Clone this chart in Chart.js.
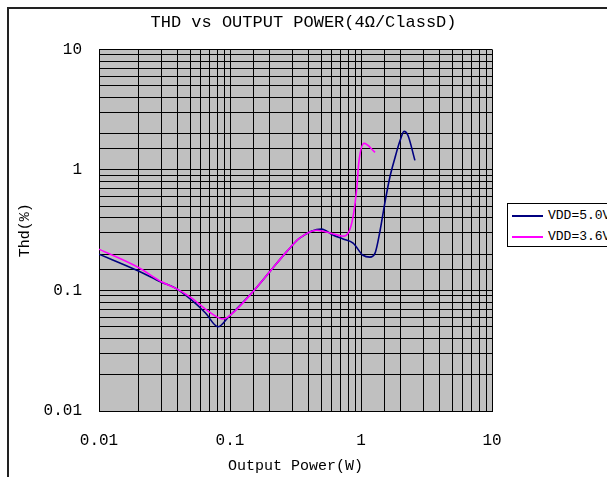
<!DOCTYPE html>
<html>
<head>
<meta charset="utf-8">
<script src="https://cdn.jsdelivr.net/npm/chart.js@4/dist/chart.umd.min.js"></script>
<style>
  html, body { margin: 0; padding: 0; background: #fff; overflow: hidden; width: 607px; height: 477px; }
  #frame { position: absolute; left: 7px; top: 7px; width: 700px; height: 600px;
           border-left: 2px solid #222; border-top: 2px solid #222; }
  #c { position: absolute; left: 0; top: 0; }
  #legend { position: absolute; left: 507px; top: 203px; width: 130px; height: 42px;
            border: 1px solid #000; background: #fff; font-family: 'Liberation Mono', monospace;
            font-size: 13px; color: #000; }
  .item { position: absolute; left: 4px; height: 16px; line-height: 16px; white-space: nowrap; }
  .swatch { display: inline-block; width: 31px; height: 0; border-top: 2px solid; vertical-align: middle; margin-right: 5px; }
</style>
</head>
<body>
<div id="frame"></div>
<canvas id="c" width="607" height="477"></canvas>
<div id="legend"></div>
<script>
// ---- data ----
const seriesNames = ['VDD=5.0V', 'VDD=3.6V'];
const power50 = [0.01, 0.02, 0.030, 0.038, 0.051, 0.065, 0.081, 0.097, 0.15, 0.20, 0.27, 0.34, 0.50, 0.61, 0.73, 0.87, 1.035, 1.17, 1.28, 1.40, 1.52, 1.66, 1.82, 1.99, 2.13, 2.28, 2.58];
const thd50   = [0.200, 0.145, 0.117, 0.105, 0.083, 0.065, 0.050, 0.060, 0.098, 0.142, 0.209, 0.272, 0.323, 0.288, 0.267, 0.247, 0.196, 0.189, 0.204, 0.316, 0.53, 0.87, 1.27, 1.76, 2.09, 1.94, 1.20];
const power36 = [0.01, 0.02, 0.030, 0.038, 0.051, 0.068, 0.089, 0.109, 0.15, 0.20, 0.27, 0.34, 0.46, 0.58, 0.73, 0.80, 0.87, 0.93, 0.96, 1.055, 1.28];
const thd36   = [0.220, 0.155, 0.118, 0.105, 0.0865, 0.0675, 0.058, 0.0675, 0.098, 0.142, 0.209, 0.272, 0.316, 0.300, 0.282, 0.30, 0.41, 0.72, 1.13, 1.66, 1.40];
const seriesColors = ['#000080', '#ff00ff'];
const xTickLabels = ['0.01', '0.1', '1', '10'];
const yTickLabels = ['0.01', '0.1', '1', '10'];
const titleText = 'THD vs OUTPUT POWER(4\u03A9/ClassD)';
const xTitle = 'Output Power(W)';
const yTitle = 'Thd(%)';

const toPts = (xs, ys) => xs.map((x, i) => ({ x: x, y: ys[i] }));
const decadeLabel = (labels) => (v) => {
  const e = Math.log10(v);
  if (Math.abs(e - Math.round(e)) < 1e-9) {
    const idx = Math.round(e) + 2;
    return labels[idx] !== undefined ? labels[idx] : '';
  }
  return '';
};

const FONT = "'Liberation Mono', monospace";
Chart.defaults.font.family = FONT;
Chart.defaults.color = '#000';

const bgPlugin = {
  id: 'plotBg',
  beforeDraw(chart) {
    const a = chart.chartArea, ctx = chart.ctx;
    ctx.save();
    ctx.fillStyle = '#c0c0c0';
    ctx.fillRect(a.left, a.top, a.right - a.left, a.bottom - a.top);
    ctx.restore();
  }
};

const chart = new Chart(document.getElementById('c'), {
  type: 'line',
  data: {
    datasets: [
      { label: seriesNames[0], data: toPts(power50, thd50), borderColor: seriesColors[0], backgroundColor: seriesColors[0],
        borderWidth: 1.6, pointRadius: 0, cubicInterpolationMode: 'monotone', fill: false, order: 2 },
      { label: seriesNames[1], data: toPts(power36, thd36), borderColor: seriesColors[1], backgroundColor: seriesColors[1],
        borderWidth: 1.6, pointRadius: 0, cubicInterpolationMode: 'monotone', fill: false, order: 1 }
    ]
  },
  options: {
    responsive: false,
    animation: false,
    devicePixelRatio: 1,
    layout: { padding: { left: 0, right: 0, top: 0, bottom: 0 } },
    plugins: {
      legend: { display: false },
      tooltip: { enabled: false },
      title: { display: true, text: titleText, color: '#000', font: { family: FONT, size: 17, weight: 'normal' },
               padding: { top: 12, bottom: 17 } }
    },
    scales: {
      x: {
        type: 'logarithmic', min: 0.01, max: 10,
        grid: { color: '#000', lineWidth: 1, drawTicks: false },
        border: { display: true, color: '#000', width: 1 },
        ticks: { autoSkip: false, maxRotation: 0, padding: 20, font: { size: 16 }, callback: decadeLabel(xTickLabels) },
        title: { display: true, text: xTitle, font: { size: 15 }, padding: { top: 0, bottom: 2 } },
        afterFit(s) { s.height = 66; }
      },
      y: {
        type: 'logarithmic', min: 0.01, max: 10,
        grid: { color: '#000', lineWidth: 1, drawTicks: false },
        border: { display: true, color: '#000', width: 1 },
        ticks: { autoSkip: false, padding: 17, font: { size: 16 }, callback: decadeLabel(yTickLabels) },
        title: { display: true, text: yTitle, font: { size: 15 }, padding: { top: 16, bottom: 0 } },
        afterFit(s) { s.width = 99; }
      },
      ySpace: {
        type: 'linear', position: 'right', display: true,
        grid: { display: false, drawTicks: false }, border: { display: false },
        ticks: { display: false }, title: { display: false },
        afterFit(s) { s.width = 115; }
      }
    }
  },
  plugins: [bgPlugin]
});

// HTML legend built from the chart's datasets
const leg = document.getElementById('legend');
chart.data.datasets.forEach((ds, i) => {
  const d = document.createElement('div');
  d.className = 'item';
  d.style.top = (4 + i * 21) + 'px';
  const sw = document.createElement('span');
  sw.className = 'swatch';
  sw.style.borderTopColor = ds.borderColor;
  d.appendChild(sw);
  d.appendChild(document.createTextNode(ds.label));
  leg.appendChild(d);
});
</script>
</body>
</html>
